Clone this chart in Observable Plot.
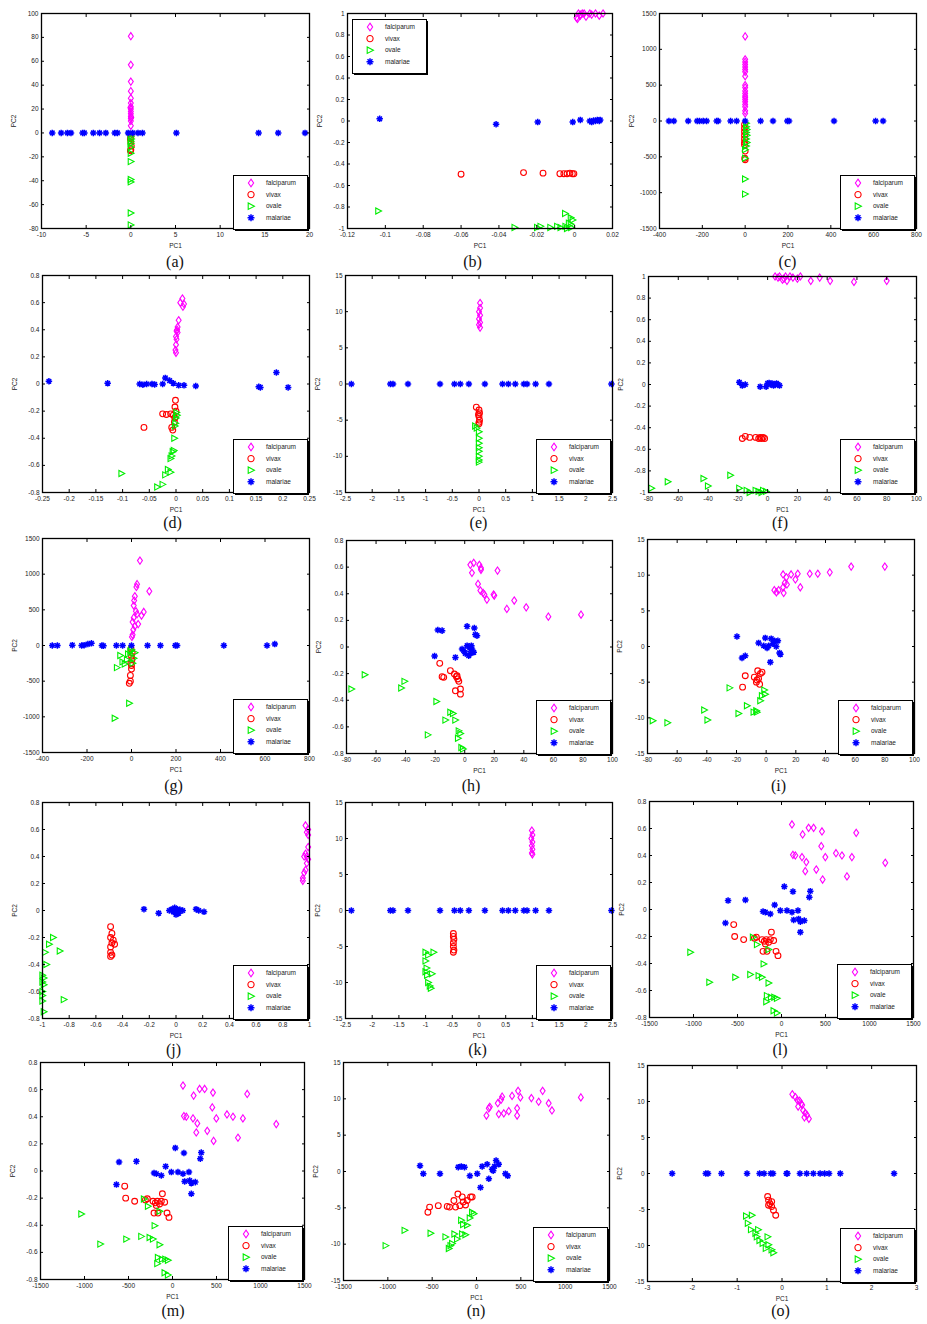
<!DOCTYPE html>
<html><head><meta charset="utf-8">
<script src="https://cdn.jsdelivr.net/npm/d3@7"></script>
<script src="https://cdn.jsdelivr.net/npm/@observablehq/plot@0.6"></script>
<style>
body{margin:0;background:#fff;}
#fig{position:relative;width:927px;height:1324px;background:#fff;overflow:hidden;}
.pan{position:absolute;}
.leg{position:absolute;}
.lab{position:absolute;font-family:"Liberation Serif","Times New Roman",serif;font-size:16px;transform:translate(-50%,-50%);color:#111;white-space:nowrap;}
</style></head><body><div id="fig"></div><script>
// ---------- legend / series ----------
const species = ["falciparum","vivax","ovale","malariae"];

// ---------- tick labels ----------
const ticks_a_x = [-10,-5,0,5,10,15,20];
const ticks_a_y = [-80,-60,-40,-20,0,20,40,60,80,100];
const ticks_b_x = [-0.12,-0.1,-0.08,-0.06,-0.04,-0.02,0,0.02];
const ticks_pm1 = [-1,-0.8,-0.6,-0.4,-0.2,0,0.2,0.4,0.6,0.8,1];
const ticks_c_x = [-400,-200,0,200,400,600,800];
const ticks_1500 = [-1500,-1000,-500,0,500,1000,1500];
const ticks_d_x = [-0.25,-0.2,-0.15,-0.1,-0.05,0,0.05,0.1,0.15,0.2,0.25];
const ticks_08 = [-0.8,-0.6,-0.4,-0.2,0,0.2,0.4,0.6,0.8];
const ticks_25 = [-2.5,-2,-1.5,-1,-0.5,0,0.5,1,1.5,2,2.5];
const ticks_15 = [-15,-10,-5,0,5,10,15];
const ticks_f_x = [-80,-60,-40,-20,0,20,40,60,80,100];
const ticks_o_x = [-3,-2,-1,0,1,2,3];

// ---------- data: [PC1, PC2] ----------
const a_falciparum = [[0,81],[0,57],[0,43],[0,35],[0,29],[0,25],[0,22],[0,20],[0,18],[0,16],[0,14],[0,12],[0,10],[0,6],[0.05,13],[-0.05,21]];
const a_vivax = [[0,-2],[-0.05,-5],[0,-8],[0.05,-11],[0,-14],[-0.05,-15],[0,-4]];
const a_ovale = [[0,-1],[0,-3],[0.05,-5],[0,-7],[0,-9],[0,-12],[0,-17],[0,-24],[0,-39],[0,-41],[0,-67],[0,-77]];
const a_malariae = [[-8.8,0],[-7.8,0],[-7.1,0],[-6.7,0],[-5.4,0],[-5.2,0],[-4.2,0],[-3.5,0],[-2.8,0],[-1.8,0],[-1.5,0],[-0.3,0],[0.2,0],[0.8,0],[1.3,0],[5.1,0],[14.3,0],[16.5,0],[19.5,0]];

const b_falciparum = [[0.001,0.96],[0.002,1],[0.003,0.98],[0.004,1],[0.006,0.97],[0.008,1],[0.009,0.99],[0.011,1],[0.013,0.98],[0.015,1],[0.0015,0.95],[0.003,0.99],[0.005,1]];
const b_vivax = [[-0.06,-0.495],[-0.027,-0.48],[-0.0167,-0.485],[-0.0078,-0.49],[-0.0057,-0.49],[-0.004,-0.49],[-0.0025,-0.485],[-0.0012,-0.49],[-0.0004,-0.49]];
const b_ovale = [[-0.1037,-0.837],[-0.0317,-0.99],[-0.0198,-0.99],[-0.018,-0.98],[-0.0128,-0.99],[-0.0092,-0.98],[-0.0074,-0.99],[-0.005,-0.86],[-0.0048,-0.98],[-0.003,-0.95],[-0.002,-0.9],[-0.0018,-0.99],[-0.001,-0.92],[-0.004,-1],[-0.002,-0.96]];
const b_malariae = [[-0.103,0.02],[-0.0415,-0.03],[-0.0195,-0.01],[-0.001,-0.01],[0.003,0.01],[0.008,0],[0.009,-0.01],[0.01,0.005],[0.011,0],[0.012,0.01],[0.013,0],[0.0135,0.01]];

const c_falciparum = [[0,1180],[0,860],[0,825],[0,790],[0,755],[0,720],[0,686],[0,626],[0,500],[0,467],[0,420],[0,384],[0,350],[0,328],[0,300],[0,267],[0,230],[0,198],[0,142],[0,105]];
const c_vivax = [[-3,-50],[-3,-100],[-3,-150],[-3,-200],[-3,-250],[-3,-300],[-3,-330],[0,-420],[-2,-520],[0,-540]];
const c_ovale = [[5,-30],[5,-80],[8,-120],[5,-160],[8,-200],[5,-250],[8,-300],[5,-350],[0,-400],[0,-520],[0,-810],[0,-1020]];
const c_malariae = [[-356,0],[-333,0],[-266,0],[-224,0],[-213,0],[-196,0],[-180,0],[-133,0],[-126,0],[-68,0],[-40,0],[0,0],[72,0],[130,0],[197,0],[205,0],[415,0],[609,0],[644,0]];

const d_falciparum = [[0.012,0.63],[0.008,0.6],[0.015,0.59],[0.013,0.57],[0.005,0.47],[0.003,0.42],[0.002,0.4],[0.001,0.39],[0.003,0.38],[0,0.35],[0.001,0.33],[0,0.29],[-0.001,0.25],[0,0.23]];
const d_vivax = [[-0.06,-0.32],[-0.025,-0.22],[-0.018,-0.225],[-0.01,-0.22],[-0.005,-0.23],[-0.001,-0.12],[-0.002,-0.17],[0,-0.2],[-0.003,-0.28],[-0.008,-0.32],[-0.006,-0.34],[-0.002,-0.25]];
const d_ovale = [[-0.102,-0.66],[-0.035,-0.76],[-0.025,-0.74],[-0.02,-0.67],[-0.015,-0.63],[-0.01,-0.65],[-0.01,-0.55],[-0.008,-0.53],[-0.006,-0.5],[-0.004,-0.49],[-0.003,-0.4],[-0.002,-0.31],[0,-0.25],[0.001,-0.21],[0.002,-0.23],[-0.001,-0.29]];
const d_malariae = [[-0.238,0.02],[-0.128,0.005],[-0.068,0],[-0.062,-0.005],[-0.055,0],[-0.045,0],[-0.04,-0.003],[-0.025,0],[-0.02,0.045],[-0.012,0.025],[-0.005,0.005],[0.005,-0.01],[0.015,-0.01],[0.037,-0.015],[0.155,-0.02],[0.158,-0.025],[0.188,0.085],[0.21,-0.025]];

const e_falciparum = [[0.02,11.2],[0.02,10.5],[0,10],[0.02,9.5],[0,9],[0.02,8.5],[0,8.2],[0.02,7.8]];
const e_vivax = [[-0.05,-3.2],[0,-3.6],[0.01,-4],[0,-4.5],[0.01,-5],[0,-5.3],[0,-5.5],[-0.01,-4.2]];
const e_ovale = [[-0.07,-5.8],[-0.04,-6.1],[0,-6.6],[0,-7.5],[0,-8.2],[0,-8.8],[0,-9.3],[0,-10],[0,-10.5],[0,-10.8]];
const e_malariae = [[-2.39,0],[-1.66,0],[-1.61,0],[-1.33,0],[-0.73,0],[-0.46,0],[-0.35,0],[-0.19,0],[0.11,0],[0.44,0],[0.55,0],[0.68,0],[0.84,0],[0.9,0],[1.06,0],[1.31,0],[2.48,0]];

const f_falciparum = [[5,1],[7,0.99],[8,1],[10,0.97],[11,0.98],[12,1],[13,0.96],[15,1],[17,0.99],[20,0.98],[22,1],[29,0.96],[35,0.99],[42,0.96],[58,0.95],[80,0.96]];
const f_vivax = [[-17,-0.5],[-15,-0.48],[-12,-0.49],[-8,-0.49],[-6,-0.5],[-5,-0.49],[-4,-0.5],[-3,-0.49],[-2,-0.5]];
const f_ovale = [[-78,-0.96],[-67,-0.9],[-43,-0.87],[-40,-0.94],[-25,-0.84],[-19,-0.96],[-14,-0.98],[-12,-1],[-8,-0.98],[-6,-0.99],[-4,-1],[-3,-0.98],[-1,-0.99]];
const f_malariae = [[-19,0.02],[-17,-0.01],[-15,0],[-5,-0.02],[-1,-0.02],[0,0.01],[1,0.015],[2,0],[3,0.01],[4,-0.01],[5,0],[6,0.01],[7,0],[8,-0.01]];

const g_falciparum = [[38,1190],[25,860],[22,820],[80,760],[15,690],[12,630],[55,470],[45,420],[20,480],[10,390],[5,330],[30,300],[15,270],[8,220],[5,150],[2,120],[25,440],[10,560]];
const g_vivax = [[-10,-530],[-5,-500],[-5,-420],[0,-330],[-3,-250],[2,-200],[0,-150],[3,-100],[-2,-50],[0,-280]];
const g_ovale = [[-75,-1020],[-10,-810],[-65,-310],[-40,-230],[-50,-140],[-30,-260],[-20,-200],[-15,-120],[-5,-80],[0,-60],[5,-250],[10,-180],[15,-100]];
const g_malariae = [[-356,0],[-333,0],[-266,5],[-224,0],[-213,5],[-196,20],[-180,30],[-133,0],[-126,-5],[-68,0],[-40,0],[0,0],[72,0],[130,0],[197,0],[205,0],[415,0],[609,0],[644,20]];

const h_falciparum = [[6.1,0.632],[3.8,0.617],[9.9,0.617],[4.9,0.557],[11,0.594],[11,0.58],[22.2,0.574],[9,0.474],[10.6,0.424],[12.4,0.406],[13.3,0.394],[15,0.356],[19.5,0.394],[20,0.386],[28.5,0.286],[33.5,0.349],[41.6,0.298],[56.6,0.228],[78.7,0.243]];
const h_vivax = [[-16.9,-0.123],[-15.3,-0.223],[-14.2,-0.228],[-9.7,-0.178],[-7,-0.203],[-5.6,-0.223],[-4.7,-0.24],[-4,-0.258],[-6.3,-0.329],[-2.9,-0.316],[-2.9,-0.354],[-5.2,-0.216]];
const h_ovale = [[-76.6,-0.316],[-67.6,-0.208],[-40.7,-0.258],[-42.9,-0.308],[-19.1,-0.409],[-24.9,-0.66],[-13,-0.549],[-9.7,-0.49],[-7.9,-0.499],[-6.3,-0.549],[-4,-0.63],[-2.9,-0.65],[-4.5,-0.685],[-2.2,-0.755],[-1.1,-0.767]];
const h_malariae = [[-18.2,0.128],[-15.3,0.123],[-20.4,-0.068],[-6.3,-0.078],[1.6,0.155],[6.5,0.143],[7.2,0.093],[8.3,0.085],[-1.8,-0.015],[-0.7,-0.028],[0.4,-0.048],[1.6,0.01],[3.4,-0.008],[3.8,-0.048],[4.9,-0.015],[6.1,-0.04],[4.5,0.01],[2.7,-0.065]];

const i_falciparum = [[5.5,7.9],[6.9,7.6],[11.4,8.3],[11.8,7.5],[11.4,10.1],[13.6,9.7],[12.5,8.9],[14,8.7],[16.8,10.1],[19.7,9.4],[21.3,10.2],[23,8.3],[29.4,10.2],[34.8,10.2],[42.9,10.4],[57.3,11.2],[80,11.2],[8.4,7.9]];
const i_vivax = [[-15.9,-5.7],[-14.1,-4.1],[-8,-4.3],[-6.6,-5],[-5.7,-3.4],[-5.1,-4.5],[-3.9,-3.8],[-2.8,-3.6],[-4.4,-5.3],[-6.2,-4.7]];
const i_ovale = [[-76.4,-10.4],[-66.5,-10.7],[-41.7,-8.9],[-39.5,-10.3],[-24.6,-5.8],[-18.6,-9.4],[-12.9,-8.3],[-8.4,-9.2],[-6.6,-9],[-3.9,-7.6],[-2.8,-6.9],[-1.2,-6.1],[-0.6,-6.7],[-6.2,-9.2]];
const i_malariae = [[-19.7,1.4],[-16.3,-1.6],[-14.1,-1.3],[-5.1,0.5],[-0.6,1.2],[0.6,-0.2],[3.4,1.1],[4.5,0.4],[5.6,0.8],[7.9,0.8],[9,-0.9],[9.6,-1.1],[2.8,-2.2],[1.7,0.1],[-1.7,0.1],[6.8,0]];

const j_falciparum = [[0.97,0.63],[0.99,0.6],[0.98,0.58],[0.99,0.56],[0.99,0.47],[0.97,0.42],[0.96,0.4],[0.99,0.38],[0.98,0.35],[0.97,0.3],[0.96,0.28],[0.95,0.24],[0.95,0.22],[0.98,0.4]];
const j_vivax = [[-0.49,-0.12],[-0.48,-0.17],[-0.49,-0.2],[-0.47,-0.22],[-0.48,-0.24],[-0.46,-0.25],[-0.49,-0.27],[-0.49,-0.31],[-0.48,-0.33],[-0.49,-0.34]];
const j_ovale = [[-0.92,-0.2],[-0.95,-0.25],[-0.87,-0.3],[-0.98,-0.31],[-0.97,-0.4],[-1,-0.48],[-0.99,-0.5],[-1,-0.53],[-0.99,-0.55],[-1,-0.63],[-0.84,-0.66],[-1,-0.67],[-0.99,-0.75],[-1,-0.6]];
const j_malariae = [[-0.24,0.01],[-0.13,-0.02],[-0.05,0],[-0.03,0.01],[-0.02,-0.01],[0,0],[0.01,0.01],[0.02,-0.02],[0.03,0.005],[0.05,0],[-0.01,0.02],[0.15,0.01],[0.17,0],[0.21,-0.01],[0,-0.03]];

const k_falciparum = [[0.99,11.1],[1,10.5],[0.98,10],[1,9.5],[0.99,9],[1,8.5],[0.99,8],[1,7.8]];
const k_vivax = [[-0.48,-3.2],[-0.48,-3.6],[-0.47,-4],[-0.48,-4.5],[-0.48,-5],[-0.47,-5.5],[-0.48,-5.8]];
const k_ovale = [[-1,-5.8],[-0.95,-6.2],[-0.85,-5.8],[-1,-7],[-0.98,-8],[-0.97,-9],[-0.88,-8.8],[-0.95,-10],[-0.92,-10.5],[-0.9,-10.8],[-1,-8.5]];
const k_malariae = e_malariae;

const l_falciparum = [[119,0.63],[240,0.556],[308,0.605],[365,0.605],[460,0.578],[849,0.568],[452,0.469],[130,0.405],[157,0.4],[233,0.388],[282,0.351],[270,0.284],[395,0.296],[467,0.222],[498,0.388],[619,0.417],[687,0.4],[800,0.388],[744,0.245],[1179,0.346]];
const l_vivax = [[-543,-0.112],[-532,-0.2],[-430,-0.223],[-308,-0.213],[-286,-0.205],[-221,-0.223],[-195,-0.235],[-172,-0.223],[-146,-0.243],[-127,-0.223],[-115,-0.168],[-89,-0.23],[-210,-0.31],[-165,-0.31],[-62,-0.31],[-40,-0.342],[-184,-0.255]];
const l_ovale = [[-1035,-0.317],[-819,-0.539],[-524,-0.502],[-354,-0.482],[-324,-0.206],[-278,-0.26],[-259,-0.49],[-221,-0.502],[-202,-0.403],[-146,-0.297],[-146,-0.544],[-165,-0.638],[-172,-0.683],[-119,-0.65],[-81,-0.65],[-51,-0.658],[-89,-0.75],[-51,-0.767]];
const l_malariae = [[-607,0.066],[-410,0.071],[-637,-0.1],[-78,0.034],[32,0.17],[130,0.133],[327,0.136],[316,0.091],[-210,-0.015],[-183,-0.02],[-127,-0.033],[-13,-0.008],[62,-0.008],[119,-0.02],[138,-0.077],[187,-0.008],[195,-0.07],[214,-0.09],[259,-0.082],[214,-0.168]];

const m_falciparum = l_falciparum;
const m_vivax = l_vivax;
const m_ovale = l_ovale;
const m_malariae = l_malariae;

const n_falciparum = [[112,7.7],[139,8.7],[150,8.9],[240,9.4],[251,7.9],[278,9.9],[289,10.3],[308,8],[364,8.3],[401,10.4],[458,8.7],[458,7.7],[469,11.1],[495,10.2],[619,10.1],[701,9.6],[746,11.1],[814,9.4],[851,8.4],[1177,10.2]];
const n_vivax = [[-548,-5.6],[-529,-4.9],[-431,-4.7],[-330,-4.8],[-304,-4.9],[-255,-4],[-210,-3.1],[-188,-4.7],[-161,-3.5],[-150,-4.2],[-124,-4.6],[-105,-4],[-67,-3.5],[-49,-3.5],[-236,-4.9]];
const n_ovale = [[-1024,-10.2],[-810,-8.1],[-517,-8.5],[-349,-9],[-311,-10.6],[-274,-9.9],[-248,-8.6],[-218,-9.3],[-161,-8.6],[-124,-8.7],[-172,-6.7],[-150,-7.3],[-105,-7.4],[-75,-6.4],[-49,-5.6],[-30,-5.8],[-292,-10.2]];
const n_malariae = [[-637,0.8],[-600,-0.3],[-412,-0.3],[-206,0.6],[-172,0.7],[-135,0.6],[-75,-0.6],[8,-0.3],[45,-2.2],[64,0.7],[120,1],[139,-1],[188,0.1],[203,0.7],[221,1.5],[251,1],[326,-0.3],[352,-0.6],[176,0.3]];

const o_falciparum = [[0.23,11],[0.3,10.6],[0.34,10.2],[0.39,10.1],[0.43,9.7],[0.36,9.3],[0.47,8.8],[0.52,8.4],[0.56,8.1],[0.6,7.6],[0.45,9.5],[0.5,7.8]];
const o_vivax = [[-0.32,-3.2],[-0.3,-3.7],[-0.27,-4.2],[-0.23,-4.6],[-0.19,-5.1],[-0.14,-5.8],[-0.3,-4.4],[-0.23,-3.9]];
const o_ovale = [[-0.8,-5.9],[-0.67,-5.8],[-0.76,-6.9],[-0.69,-7.8],[-0.59,-8.3],[-0.56,-8.8],[-0.5,-9.3],[-0.43,-9.7],[-0.32,-8.8],[-0.3,-9.9],[-0.23,-10.6],[-0.19,-11],[-0.36,-10.4],[-0.53,-7.8]];
const o_malariae = [[-2.45,0],[-1.7,0],[-1.65,0],[-1.35,0],[-0.78,0],[-0.5,0],[-0.4,0],[-0.25,0],[-0.2,0],[0.1,0],[0.12,0],[0.4,0],[0.55,0],[0.7,0],[0.85,0],[0.95,0],[1.05,0],[1.3,0],[2.5,0]];

// ---------- layout ----------
const panels = [
 {id:"a", box:[41,309,13,228],  xd:[-10,20],      yd:[-80,100],   xt:ticks_a_x, yt:ticks_a_y,  s:[a_falciparum,a_vivax,a_ovale,a_malariae], leg:"br", ly:262, ldx:0},
 {id:"b", box:[347,612,13,228], xd:[-0.12,0.02],  yd:[-1,1],      xt:ticks_b_x, yt:ticks_pm1,  s:[b_falciparum,b_vivax,b_ovale,b_malariae], leg:"tl", ly:262, ldx:-7},
 {id:"c", box:[659,916,13,228], xd:[-400,800],    yd:[-1500,1500],xt:ticks_c_x, yt:ticks_1500, s:[c_falciparum,c_vivax,c_ovale,c_malariae], leg:"br", ly:262, ldx:0},
 {id:"d", box:[42,309,275,492], xd:[-0.25,0.25],  yd:[-0.8,0.8],  xt:ticks_d_x, yt:ticks_08,   s:[d_falciparum,d_vivax,d_ovale,d_malariae], leg:"br", ly:523, ldx:-3},
 {id:"e", box:[345,612,275,492],xd:[-2.5,2.5],    yd:[-15,15],    xt:ticks_25,  yt:ticks_15,   s:[e_falciparum,e_vivax,e_ovale,e_malariae], leg:"br", ly:523, ldx:0},
 {id:"f", box:[648,916,276,492],xd:[-80,100],     yd:[-1,1],      xt:ticks_f_x, yt:ticks_pm1,  s:[f_falciparum,f_vivax,f_ovale,f_malariae], leg:"br", ly:523, ldx:-2},
 {id:"g", box:[42,309,538,752], xd:[-400,800],    yd:[-1500,1500],xt:ticks_c_x, yt:ticks_1500, s:[g_falciparum,g_vivax,g_ovale,g_malariae], leg:"br", ly:786, ldx:-2},
 {id:"h", box:[346,612,540,753],xd:[-80,100],     yd:[-0.8,0.8],  xt:ticks_f_x, yt:ticks_08,   s:[h_falciparum,h_vivax,h_ovale,h_malariae], leg:"br", ly:786, ldx:-8},
 {id:"i", box:[647,914,539,753],xd:[-80,100],     yd:[-15,15],    xt:ticks_f_x, yt:ticks_15,   s:[i_falciparum,i_vivax,i_ovale,i_malariae], leg:"br", ly:786, ldx:-2},
 {id:"j", box:[42,309,802,1018],xd:[-1,1],        yd:[-0.8,0.8],  xt:ticks_pm1, yt:ticks_08,   s:[j_falciparum,j_vivax,j_ovale,j_malariae], leg:"br", ly:1050, ldx:-2},
 {id:"k", box:[345,612,802,1018],xd:[-2.5,2.5],   yd:[-15,15],    xt:ticks_25,  yt:ticks_15,   s:[k_falciparum,k_vivax,k_ovale,k_malariae], leg:"br", ly:1050, ldx:-1},
 {id:"l", box:[649,913,801,1017],xd:[-1500,1500], yd:[-0.8,0.8],  xt:ticks_1500,yt:ticks_08,   s:[l_falciparum,l_vivax,l_ovale,l_malariae], leg:"br", ly:1050, ldx:-1},
 {id:"m", box:[40,304,1062,1279],xd:[-1500,1500], yd:[-0.8,0.8],  xt:ticks_1500,yt:ticks_08,   s:[m_falciparum,m_vivax,m_ovale,m_malariae], leg:"br", ly:1311, ldx:1},
 {id:"n", box:[343,609,1062,1280],xd:[-1500,1500],yd:[-15,15],    xt:ticks_1500,yt:ticks_15,   s:[n_falciparum,n_vivax,n_ovale,n_malariae], leg:"br", ly:1311, ldx:0},
 {id:"o", box:[647,916,1065,1281],xd:[-3,3],      yd:[-15,15],    xt:ticks_o_x, yt:ticks_15,   s:[o_falciparum,o_vivax,o_ovale,o_malariae], leg:"br", ly:1311, ldx:-1}
];

// ---------- MATLAB-like marker symbols ----------
const symDiamond = {draw(ctx, size){const r=Math.sqrt(size/Math.PI); ctx.moveTo(0,-1.25*r); ctx.lineTo(0.85*r,0); ctx.lineTo(0,1.25*r); ctx.lineTo(-0.85*r,0); ctx.closePath();}};
const symTriRight = {draw(ctx, size){const r=Math.sqrt(size/Math.PI); ctx.moveTo(1.1*r,0); ctx.lineTo(-0.9*r,-1.05*r); ctx.lineTo(-0.9*r,1.05*r); ctx.closePath();}};
const symStar = {draw(ctx, size){const r=Math.sqrt(size/Math.PI)*1.05; const c=r*0.7071; ctx.moveTo(-r,0); ctx.lineTo(r,0); ctx.moveTo(0,-r); ctx.lineTo(0,r); ctx.moveTo(-c,-c); ctx.lineTo(c,c); ctx.moveTo(-c,c); ctx.lineTo(c,-c);}};
const sty = [
  {symbol: symDiamond, stroke:"#ff00ff", r:2.9, sw:1.1},
  {symbol: d3.symbolCircle, stroke:"#ff0000", r:2.9, sw:1.1},
  {symbol: symTriRight, stroke:"#00ee00", r:2.9, sw:1.1},
  {symbol: symStar, stroke:"#0000ff", r:3.1, sw:1.5}
];

const fig = document.getElementById("fig");
const fmt = d => String(Math.round(d*1e6)/1e6);
const mL=40, mR=8, mT=8, mB=34;

for (const p of panels) {
  const [x0,x1,y0,y1] = p.box;
  const marks = [];
  p.s.forEach((ser, k) => {
    marks.push(Plot.dot(ser, {x: d=>d[0], y: d=>d[1], symbol: sty[k].symbol, stroke: sty[k].stroke, fill:"none", r: sty[k].r, strokeWidth: sty[k].sw}));
  });
  marks.push(Plot.frame({stroke:"#000", strokeWidth:1.3}));
  marks.push(Plot.axisX(p.xt, {anchor:"bottom", tickSize:-3, tickPadding:7, tickFormat:fmt, label:"PC1", labelAnchor:"center", labelArrow:"none", labelOffset:19, fill:"#222"}));
  marks.push(Plot.axisX(p.xt, {anchor:"top", tickSize:-3, tickFormat:()=>"", label:null}));
  marks.push(Plot.axisY(p.yt, {anchor:"left", tickSize:-3, tickPadding:6, tickFormat:fmt, label:"PC2", labelAnchor:"center", labelArrow:"none", labelOffset:30, fill:"#222"}));
  marks.push(Plot.axisY(p.yt, {anchor:"right", tickSize:-3, tickFormat:()=>"", label:null}));
  const chart = Plot.plot({
    width: (x1-x0)+mL+mR, height: (y1-y0)+mT+mB,
    marginLeft:mL, marginRight:mR, marginTop:mT, marginBottom:mB,
    x:{domain:p.xd}, y:{domain:p.yd},
    style:{fontFamily:"'Liberation Sans', Arial, sans-serif", fontSize:"6.5px", background:"transparent", overflow:"visible"},
    marks
  });
  const wrap = document.createElement("div");
  wrap.className = "pan";
  wrap.style.left = (x0-mL)+"px"; wrap.style.top = (y0-mT)+"px";
  wrap.appendChild(chart);
  fig.appendChild(wrap);

  // legend
  const LW=74, LH=54;
  const lg = d3.create("svg").attr("width", LW+3).attr("height", LH+3).style("overflow","visible");
  lg.append("rect").attr("x",2).attr("y",2).attr("width",LW).attr("height",LH).attr("fill","#000");
  lg.append("rect").attr("x",0.5).attr("y",0.5).attr("width",LW).attr("height",LH).attr("fill","#fff").attr("stroke","#000").attr("stroke-width",1);
  species.forEach((name,k) => {
    const yy = 8 + k*11.6;
    lg.append("path").attr("transform",`translate(18,${yy})`)
      .attr("d", d3.symbol(sty[k].symbol, Math.PI*sty[k].r*sty[k].r*1.15)())
      .attr("fill","none").attr("stroke",sty[k].stroke).attr("stroke-width",sty[k].sw);
    lg.append("text").attr("x",33).attr("y",yy).attr("dy","0.35em")
      .attr("font-family","'Liberation Sans', Arial, sans-serif").attr("font-size","6.5px").attr("fill","#222").text(name);
  });
  const ld = document.createElement("div");
  ld.className = "leg";
  if (p.leg === "tl") { ld.style.left = (x0+5)+"px"; ld.style.top = (y0+6)+"px"; }
  else { ld.style.left = (x1-LW-2)+"px"; ld.style.top = (y1-LH+1)+"px"; }
  ld.appendChild(lg.node());
  fig.appendChild(ld);

  const lab = document.createElement("div");
  lab.className = "lab";
  lab.style.left = ((x0+x1)/2 + p.ldx)+"px"; lab.style.top = p.ly+"px";
  lab.textContent = "("+p.id+")";
  fig.appendChild(lab);
}
</script></body></html>
